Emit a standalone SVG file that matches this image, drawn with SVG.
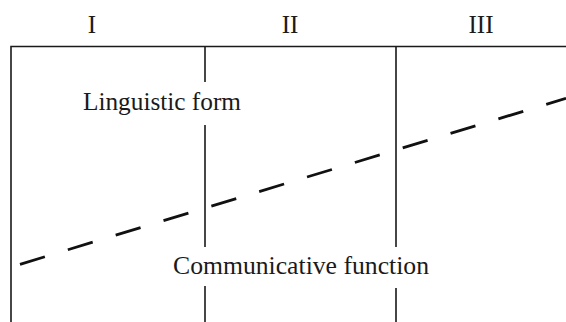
<svg xmlns="http://www.w3.org/2000/svg" width="566" height="322" viewBox="0 0 566 322">
<style>
.t{font-family:"Liberation Serif","Times New Roman",serif;font-size:25px;fill:#1a1a1a}
.ln{stroke:#1a1a1a;stroke-width:1.6;fill:none}
.dash{stroke:#111;stroke-width:2.8;fill:none;stroke-dasharray:26 24}
</style>
<rect width="566" height="322" fill="#ffffff"/>
<g id="frame">
<path class="ln" d="M11,322 V46.5 H566"/>
</g>
<g id="col-I"><text class="t" x="92" y="33" text-anchor="middle">I</text></g>
<g id="col-II"><text class="t" x="290" y="33" text-anchor="middle">II</text></g>
<g id="col-III"><text class="t" x="481" y="33" text-anchor="middle">III</text></g>
<g id="dividers">
<path class="ln" d="M205,46.5 V82 M205,125 V247 M205,286 V322"/>
<path class="ln" d="M396,46.5 V247 M396,288 V322"/>
</g>
<g id="connectors">
<line class="dash" x1="20" y1="264.3" x2="566" y2="98.3"/>
</g>
<g id="linguistic-form"><text class="t" x="83" y="110" textLength="158" lengthAdjust="spacingAndGlyphs">Linguistic form</text></g>
<g id="communicative-function"><text class="t" x="173" y="274" textLength="256" lengthAdjust="spacingAndGlyphs">Communicative function</text></g>
</svg>
